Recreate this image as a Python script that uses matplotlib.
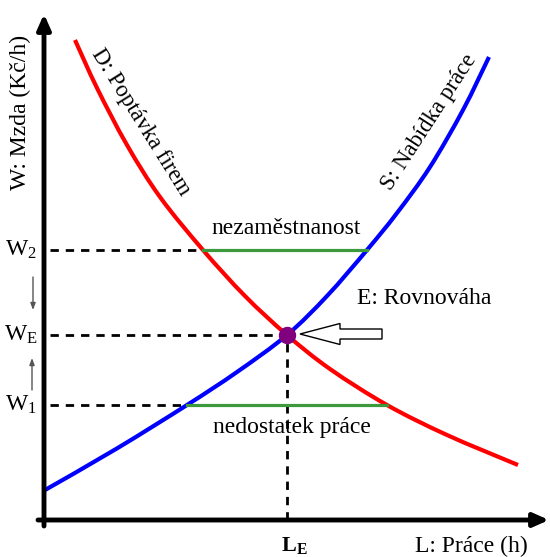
import matplotlib
matplotlib.use("Agg")
import matplotlib.pyplot as plt
from matplotlib.patches import FancyArrow, PathPatch
from matplotlib.path import Path

plt.rcParams['font.family'] = ['Liberation Serif', 'DejaVu Serif']
plt.rcParams['mathtext.fontset'] = 'custom'
plt.rcParams['mathtext.rm'] = 'Liberation Serif'
plt.rcParams['mathtext.it'] = 'Liberation Serif:italic'
plt.rcParams['mathtext.bf'] = 'Liberation Serif:bold'

# Demand curve (D: Poptávka firem)
demand_L = [0.62, 1.06, 1.66, 2.32, 3.18, 4.02, 4.86, 5.72, 6.86, 8.06, 9.48]
demand_W = [9.60, 8.64, 7.50, 6.46, 5.40, 4.48, 3.70, 3.02, 2.30, 1.70, 1.10]
# Supply curve (S: Nabídka práce)
supply_L = [0.02, 1.44, 2.86, 3.86, 4.86, 5.66, 6.46, 7.06, 7.72, 8.38, 8.90]
supply_W = [0.60, 1.42, 2.30, 2.96, 3.70, 4.48, 5.40, 6.14, 7.06, 8.20, 9.26]

# Wage levels and the labour amount at them
W2, WE, W1 = 5.40, 3.70, 2.30
LE = 4.86
L_W2_demand, L_W2_supply = 3.18, 6.46
L_W1_supply, L_W1_demand = 2.86, 6.86


def smooth_path(xs, ys):
    """Smooth curve through the given points (Catmull-Rom as cubic Bezier)."""
    pts = list(zip(xs, ys))
    n = len(pts)
    verts = [pts[0]]
    codes = [Path.MOVETO]
    for i in range(n - 1):
        p0 = pts[i - 1] if i > 0 else pts[i]
        p1 = pts[i]
        p2 = pts[i + 1]
        p3 = pts[i + 2] if i + 2 < n else pts[i + 1]
        c1 = (p1[0] + (p2[0] - p0[0]) / 6, p1[1] + (p2[1] - p0[1]) / 6)
        c2 = (p2[0] - (p3[0] - p1[0]) / 6, p2[1] - (p3[1] - p1[1]) / 6)
        verts += [c1, c2, p2]
        codes += [Path.CURVE4] * 3
    return Path(verts, codes)


fig = plt.figure(figsize=(5.5, 5.57), dpi=100)
ax = fig.add_axes([0, 0, 1, 1])
ax.set_xlim(-0.88, 10.12)
ax.set_ylim(-0.74, 10.4)
ax.axis('off')

# axes with arrows
ax.annotate('', xy=(0, 10.12), xytext=(0, -0.12),
            arrowprops=dict(arrowstyle='-|>,head_length=0.9,head_width=0.4', lw=3.5,
                            color='black', shrinkA=0, shrinkB=0))
ax.annotate('', xy=(10.1, 0), xytext=(-0.12, 0),
            arrowprops=dict(arrowstyle='-|>,head_length=0.9,head_width=0.4', lw=3.5,
                            color='black', shrinkA=0, shrinkB=0))

dash = (0, (3, 2.5))
ax.plot([0.12, L_W2_demand], [W2, W2], color='black', lw=2, linestyle=dash)
ax.plot([0.12, LE], [WE, WE], color='black', lw=2, linestyle=dash)
ax.plot([0.12, L_W1_supply], [W1, W1], color='black', lw=2, linestyle=dash)
ax.plot([LE, LE], [0, WE], color='black', lw=2, linestyle=dash)

ax.plot([L_W2_demand, L_W2_supply], [W2, W2], color='#3c9a3c', lw=2.3)
ax.plot([L_W1_supply, L_W1_demand], [W1, W1], color='#3c9a3c', lw=2.3)

ax.add_patch(PathPatch(smooth_path(demand_L, demand_W), fill=False,
                       edgecolor='#ff0000', lw=3, capstyle='butt'))
ax.add_patch(PathPatch(smooth_path(supply_L, supply_W), fill=False,
                       edgecolor='#0000ff', lw=3, capstyle='butt'))

ax.plot([LE], [WE], 'o', color='#800080', markersize=11.5, zorder=5)

# hollow arrow pointing to equilibrium
arr = FancyArrow(6.76, WE + 0.02, -1.64, 0, width=0.2, head_width=0.42,
                 head_length=0.8, length_includes_head=True,
                 facecolor='white', edgecolor='black', lw=1.0, zorder=4)
ax.add_patch(arr)

fs = 17
ax.text(-0.48, 8.15, 'W: Mzda (Kč/h)', rotation=90, ha='center', va='center', fontsize=fs)
ax.text(1.94, 7.96, 'D: Poptávka firem', rotation=-58, ha='center', va='center',
        fontsize=16.5, rotation_mode='anchor')
ax.text(7.70, 7.96, 'S: Nabídka práce', rotation=57, ha='center', va='center',
        fontsize=16.5, rotation_mode='anchor')
ax.text(4.84, 5.82, 'nezaměstnanost', ha='center', va='center', fontsize=fs)
ax.text(4.96, 1.84, 'nedostatek práce', ha='center', va='center', fontsize=fs)
ax.text(7.60, 4.44, 'E: Rovnováha', ha='center', va='center', fontsize=fs)
ax.text(8.54, -0.52, 'L: Práce (h)', ha='center', va='center', fontsize=fs)
ax.text(LE + 0.14, -0.50, r'$\mathbf{L}_{\mathbf{E}}$', ha='center', va='center', fontsize=16)

ax.text(-0.47, W2, r'W$_2$', ha='center', va='center', fontsize=fs)
ax.text(-0.47, WE, r'W$_\mathrm{E}$', ha='center', va='center', fontsize=fs)
ax.text(-0.47, W1, r'W$_1$', ha='center', va='center', fontsize=fs)

ax.annotate('', xy=(-0.22, 4.2), xytext=(-0.22, 4.86),
            arrowprops=dict(arrowstyle='-|>,head_length=0.4,head_width=0.15', lw=1,
                            color='#555555', shrinkA=0, shrinkB=0))
ax.annotate('', xy=(-0.24, 3.24), xytext=(-0.24, 2.6),
            arrowprops=dict(arrowstyle='-|>,head_length=0.4,head_width=0.15', lw=1,
                            color='#555555', shrinkA=0, shrinkB=0))

fig.savefig('out.png', dpi=100)
